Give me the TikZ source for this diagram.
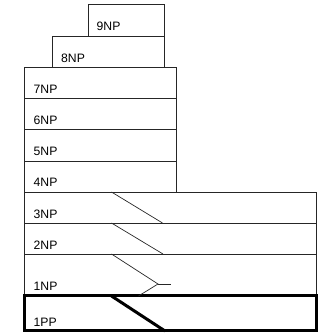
\documentclass[tikz,border=0pt]{standalone}
\usepackage{fontspec}
\setmainfont{Liberation Sans}
\begin{document}
\begin{tikzpicture}[x=1pt,y=1pt,
  box/.style={draw=black!85,line width=0.8pt,rectangle,inner sep=0pt,outer sep=0pt,anchor=south west},
  lbl/.style={anchor=base west,inner sep=0pt,font=\fontsize{12.2}{14}\selectfont},
  thin/.style={draw=black!85,line width=0.7pt},
  thick/.style={draw=black,line width=3pt}]
\useasboundingbox (0,0) rectangle (327,334);
% boxes (y = 334 - image y)
\node[box,minimum width=76,minimum height=32] (b9) at (88,298) {};
\node[box,minimum width=112,minimum height=31] (b8) at (52,267) {};
\node[box,minimum width=152,minimum height=31] (b7) at (24,236) {};
\node[box,minimum width=152,minimum height=31] (b6) at (24,205) {};
\node[box,minimum width=152,minimum height=32] (b5) at (24,173) {};
\node[box,minimum width=152,minimum height=31] (b4) at (24,142) {};
\node[box,minimum width=292,minimum height=31] (b3) at (24,111) {};
\node[box,minimum width=292,minimum height=31] (b2) at (24,80) {};
\node[box,minimum width=292,minimum height=42] (b1) at (24,38) {};
\node[draw=black,line width=3pt,rectangle,inner sep=0pt,outer sep=0pt,anchor=south west,minimum width=292,minimum height=35] (p1) at (24,3) {};
% labels
\node[lbl] (l9) at (96.5,303) {9NP};
\node[lbl] (l8) at (61,271) {8NP};
\node[lbl] (l7) at (33.5,240) {7NP};
\node[lbl] (l6) at (33.5,209) {6NP};
\node[lbl] (l5) at (33.5,178) {5NP};
\node[lbl] (l4) at (33.5,147) {4NP};
\node[lbl] (l3) at (33.5,115) {3NP};
\node[lbl] (l2) at (33.5,84) {2NP};
\node[lbl] (l1) at (33.5,43.5) {1NP};
\node[lbl] (lp) at (33.5,7.5) {1PP};
% diagonals
\coordinate (d3a) at (111.5,142);
\coordinate (d3b) at (162.5,111);
\coordinate (d2a) at (111.5,111);
\coordinate (d2b) at (163,80);
\coordinate (d1a) at (111.5,80);
\coordinate (d1b) at (158,50);
\coordinate (d1c) at (138.5,38);
\coordinate (d1d) at (170.5,50);
\coordinate (dpa) at (111.5,38);
\coordinate (dpb) at (165,3);
\draw[thin] (d3a) -- (d3b);
\draw[thin] (d2a) -- (d2b);
\draw[thin] (d1a) -- (d1b) -- (d1c);
\draw[thin] (d1b) -- (d1d);
\draw[thick] (dpa) -- (dpb);
\end{tikzpicture}
\end{document}
